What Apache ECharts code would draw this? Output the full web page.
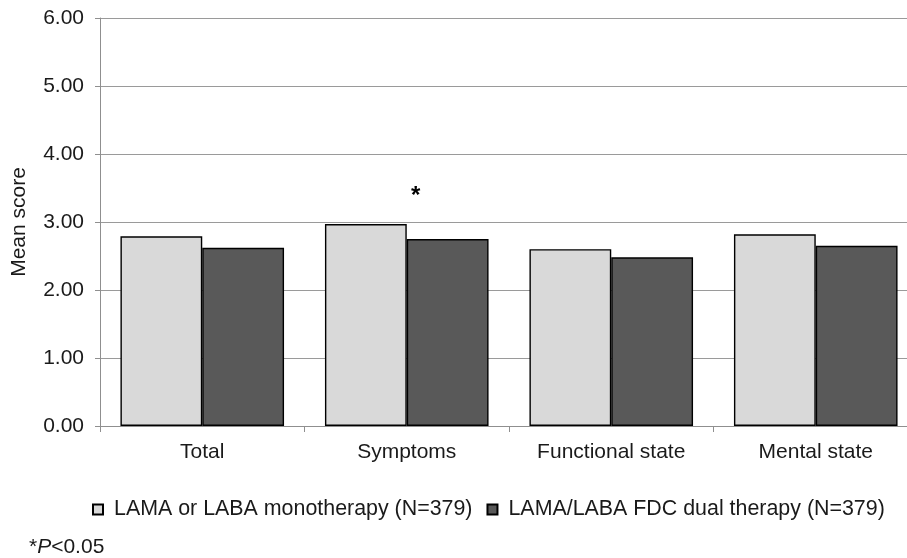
<!DOCTYPE html>
<html>
<head>
<meta charset="utf-8">
<script src="https://cdn.jsdelivr.net/npm/echarts@6/dist/echarts.min.js"></script>
<style>
html,body{margin:0;padding:0;background:#fff;}
#chart{width:907px;height:558px;}
</style>
</head>
<body>
<div id="chart"></div>
<script>
var categories = ['Total', 'Symptoms', 'Functional state', 'Mental state'];
var monoValues = [2.79, 2.97, 2.60, 2.82];
var dualValues = [2.62, 2.75, 2.48, 2.65];
var seriesNames = ['LAMA or LABA monotherapy (N=379)', 'LAMA/LABA FDC dual therapy (N=379)'];
var yTicks = [0, 1, 2, 3, 4, 5, 6];
var significantIndex = 1;

var FONT = '"Liberation Sans", Arial, sans-serif';
var FS = 21;
var chart = echarts.init(document.getElementById('chart'), null, {renderer: 'canvas'});
var option = {
  animation: false,
  backgroundColor: '#fff',
  textStyle: {fontFamily: FONT, color: '#1a1a1a'},
  grid: {left: 100, top: 18, bottom: 132, right: -11, containLabel: false, outerBoundsMode: 'none'},
  legend: {
    left: 92, top: 499, padding: 0,
    itemWidth: 10, itemHeight: 10, itemGap: 14,
    icon: 'rect',
    textStyle: {fontFamily: FONT, fontSize: 21.4, color: '#1a1a1a', padding: [0, 0, 0, 6]},
    data: seriesNames
  },
  xAxis: {
    type: 'category',
    data: categories,
    axisLine: {lineStyle: {color: '#8f8f8f', width: 1}},
    axisTick: {show: true, length: 6, lineStyle: {color: '#8f8f8f'}},
    axisLabel: {fontFamily: FONT, fontSize: FS, color: '#1a1a1a', margin: 16}
  },
  yAxis: {
    type: 'value',
    min: yTicks[0], max: yTicks[yTicks.length - 1], interval: 1,
    name: 'Mean score',
    nameLocation: 'middle',
    nameGap: 70,
    nameTextStyle: {fontFamily: FONT, fontSize: FS, color: '#1a1a1a'},
    axisLine: {show: true, lineStyle: {color: '#8f8f8f', width: 1}},
    axisTick: {show: true, length: 5, lineStyle: {color: '#8f8f8f'}},
    axisLabel: {fontFamily: FONT, fontSize: FS, color: '#1a1a1a', margin: 16,
      formatter: function (v) { return v.toFixed(2); }},
    splitLine: {show: true, lineStyle: {color: '#9a9a9a', width: 1}}
  },
  series: [
    {
      name: seriesNames[0], type: 'bar', data: monoValues,
      barGap: '0%', barCategoryGap: '20%',
      itemStyle: {color: '#d9d9d9', borderColor: '#000', borderWidth: 1.4}
    },
    {
      name: seriesNames[1], type: 'bar', data: dualValues,
      barGap: '0%', barCategoryGap: '20%',
      itemStyle: {color: '#595959', borderColor: '#000', borderWidth: 1.4}
    }
  ]
};
chart.setOption(option);

var p = chart.convertToPixel({xAxisIndex: 0, yAxisIndex: 0}, [significantIndex, 3.4]);
chart.setOption({
  graphic: [
    {
      type: 'text', x: p[0] + 9, y: p[1] + 2,
      style: {text: '*', font: 'bold 24px ' + FONT, fill: '#000', textAlign: 'center', textVerticalAlign: 'middle'}
    },
    {
      type: 'text', left: 29, top: 537,
      style: {
        text: '{n|*}{i|P}{n|<0.05}',
        rich: {
          n: {fontFamily: FONT, fontSize: FS, fill: '#1a1a1a', color: '#1a1a1a'},
          i: {fontFamily: FONT, fontSize: FS, fontStyle: 'italic', fill: '#1a1a1a', color: '#1a1a1a'}
        }
      }
    }
  ]
});
</script>
</body>
</html>
